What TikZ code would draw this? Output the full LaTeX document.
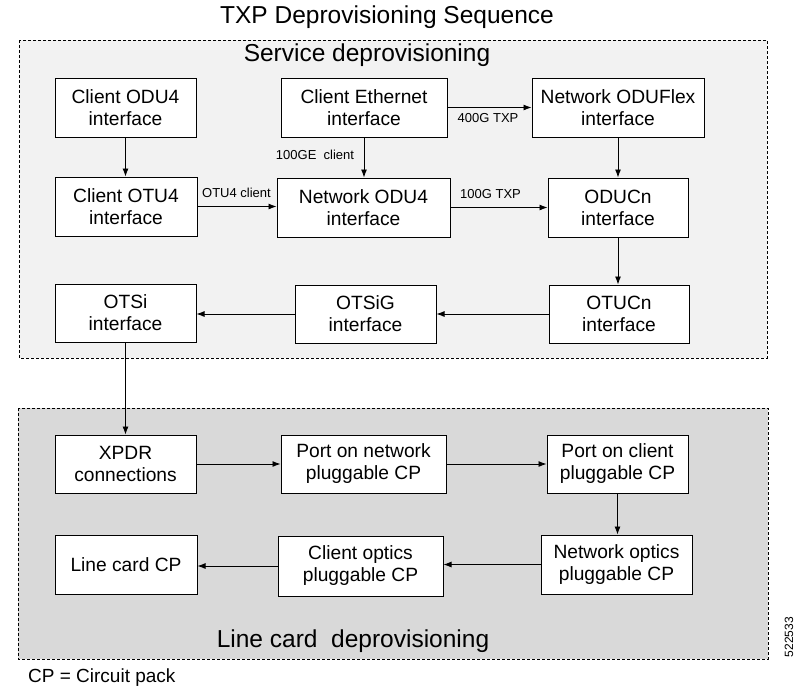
\documentclass[tikz,border=0pt]{standalone}
\usepackage{fontspec}
\setmainfont{Liberation Sans}
\usetikzlibrary{arrows.meta}
\begin{document}
\begin{tikzpicture}[x=1pt,y=-1pt,
  box/.style={draw=black,line width=1pt,fill=white,inner sep=0pt,align=center,
    font=\fontsize{19.2}{22}\selectfont},
  arr/.style={draw=black,line width=0.9pt,-{Latex[length=8pt,width=6pt]}},
  elabel/.style={font=\fontsize{13}{15}\selectfont,inner sep=0pt},
  region/.style={draw=black,line width=0.8pt,dash pattern=on 3pt off 2pt},
  heading/.style={font=\fontsize{24.5}{28}\selectfont,inner sep=0pt}]
\useasboundingbox (0,0) rectangle (802,694);
\fill[white] (0,0) rectangle (802,694);
% regions
\draw[region,fill=black!5] (19,40) rectangle (767,358);
\draw[region,fill=black!15] (18,408) rectangle (768,659);
% titles
\node[heading] (title) at (387,17) {TXP Deprovisioning Sequence};
\node[heading] (svc) at (367,55) {Service deprovisioning};
\node[heading] (lc) at (353,641) {Line card\ \ deprovisioning};
\node[font=\fontsize{19}{22}\selectfont,inner sep=0pt,anchor=west] (cp) at (28,678) {CP = Circuit pack};
\node[font=\fontsize{12}{14}\selectfont,inner sep=0pt,rotate=90] (num) at (789,637) {522533};
% boxes
\node[box,minimum width=141pt,minimum height=59pt] (codu) at (125.5,107.5) {Client ODU4\\interface};
\node[box,minimum width=142pt,minimum height=59pt] (cotu) at (126,206.5) {Client OTU4\\interface};
\node[box,minimum width=166pt,minimum height=59pt] (ceth) at (364,107.5) {Client Ethernet\\interface};
\node[box,minimum width=173pt,minimum height=59pt] (nodu) at (363.5,207.5) {Network ODU4\\interface};
\node[box,minimum width=172pt,minimum height=59pt] (nflex) at (618,107.5) {Network ODUFlex\\interface};
\node[box,minimum width=140pt,minimum height=59pt] (oducn) at (618,207.5) {ODUCn\\interface};
\node[box,minimum width=141pt,minimum height=58pt] (otsi) at (125.5,313) {OTSi\\interface};
\node[box,minimum width=141pt,minimum height=58pt] (otsig) at (365.5,314) {OTSiG\\interface};
\node[box,minimum width=140pt,minimum height=58pt] (otucn) at (619,314) {OTUCn\\interface};
\node[box,minimum width=141pt,minimum height=58pt] (xpdr) at (125.5,464) {XPDR\\connections};
\node[box,minimum width=165pt,minimum height=58pt] (pnet) at (363.5,464) {Port on network\\pluggable CP};
\node[box,minimum width=141pt,minimum height=58pt] (pcli) at (617.5,464) {Port on client\\pluggable CP};
\node[box,minimum width=142pt,minimum height=59pt] (lcp) at (126,564.5) {Line card CP};
\node[box,minimum width=165pt,minimum height=60pt] (copt) at (360.5,566) {Client optics\\pluggable CP};
\node[box,minimum width=151pt,minimum height=59pt] (nopt) at (616.5,564.5) {Network optics\\pluggable CP};
% edge labels
\node[elabel] (l100ge) at (315,155) {100GE\ \ client};
\node[elabel] (lotu) at (236.5,193) {OTU4 client};
\node[elabel] (l400) at (488,118) {400G TXP};
\node[elabel] (l100) at (490.5,194) {100G TXP};
% arrows
\draw[arr] (codu.south) -- (codu.south |- cotu.north);
\draw[arr] (cotu.east) -- (cotu.east -| nodu.west);
\draw[arr] (ceth.south) -- (ceth.south |- nodu.north);
\draw[arr] (ceth.east) -- (ceth.east -| nflex.west);
\draw[arr] (nodu.east) -- (nodu.east -| oducn.west);
\draw[arr] (nflex.south) -- (nflex.south |- oducn.north);
\draw[arr] (oducn.south) -- (oducn.south |- otucn.north);
\draw[arr] (otucn.west) -- (otucn.west -| otsig.east);
\draw[arr] (otsig.west) -- (otsig.west -| otsi.east);
\draw[arr] (otsi.south) -- (otsi.south |- xpdr.north);
\draw[arr] (xpdr.east) -- (xpdr.east -| pnet.west);
\draw[arr] (pnet.east) -- (pnet.east -| pcli.west);
\draw[arr] (pcli.south) -- (pcli.south |- nopt.north);
\draw[arr] (nopt.west) -- (nopt.west -| copt.east);
\draw[arr] (copt.west) -- (copt.west -| lcp.east);
\end{tikzpicture}
\end{document}
